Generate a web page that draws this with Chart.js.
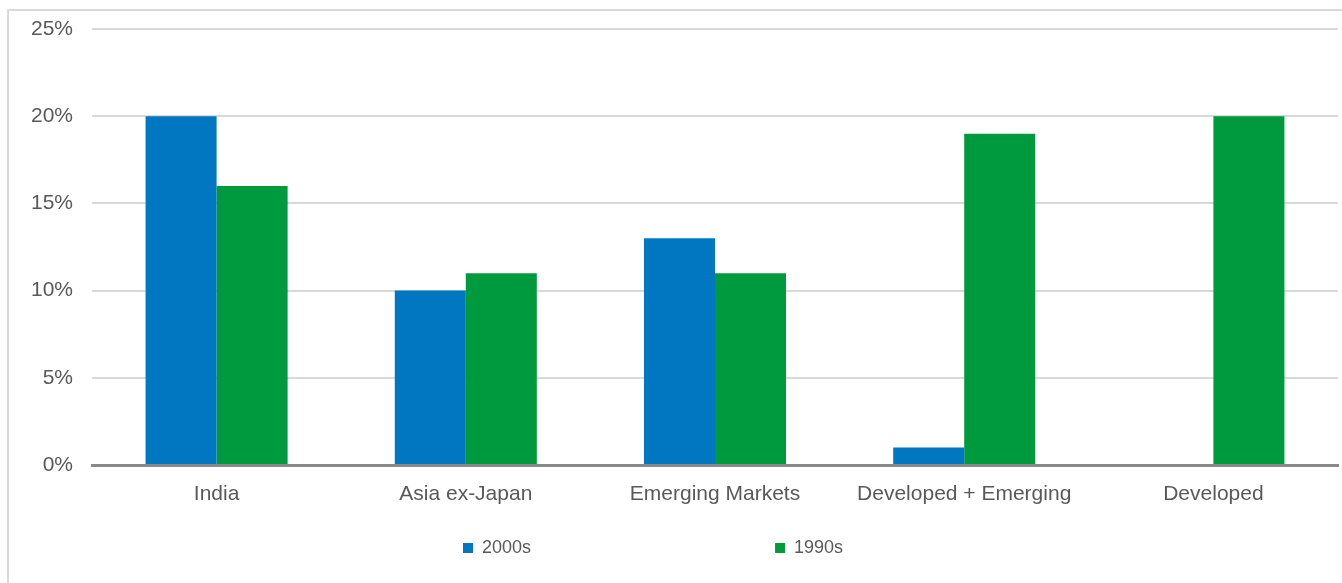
<!DOCTYPE html>
<html>
<head>
<meta charset="utf-8">
<script src="https://cdn.jsdelivr.net/npm/chart.js@4/dist/chart.umd.min.js"></script>
<style>
  html, body { margin: 0; padding: 0; background: #ffffff; }
  #frame { position: absolute; left: 7px; top: 9px; width: 1400px; height: 600px; border: 2px solid #d9d9d9; box-sizing: border-box; }
  #c { position: absolute; left: 0; top: 0; }
</style>
</head>
<body>
<div id="frame"></div>
<canvas id="c" width="1342" height="583"></canvas>
<script>
const categories = ["India", "Asia ex-Japan", "Emerging Markets", "Developed + Emerging", "Developed"];
const series2000s = [20, 10, 13, 1, null];
const series1990s = [16, 11, 11, 19, 20];
const seriesNames = ["2000s", "1990s"];
const yTicks = [0, 5, 10, 15, 20, 25];

const FONT = '"Liberation Sans", Arial, Helvetica, sans-serif';
const TEXT = '#595959';

// Legend placement tuning (mimics the wide spacing of the original legend)
const LEGEND_PAD = 244;
const legendPlacer = {
  id: 'legendPlacer',
  afterLayout(chart) {
    const lg = chart.legend;
    if (!lg) return;
    lg.left = 463 - LEGEND_PAD;
    lg.top = 539 - LEGEND_PAD;
  }
};

new Chart(document.getElementById('c'), {
  type: 'bar',
  data: {
    labels: categories,
    datasets: [
      { label: seriesNames[0], data: series2000s, backgroundColor: '#0077c0', borderWidth: 0 },
      { label: seriesNames[1], data: series1990s, backgroundColor: '#009a3e', borderWidth: 0 }
    ]
  },
  options: {
    responsive: false,
    animation: false,
    devicePixelRatio: 1,
    categoryPercentage: 0.57,
    barPercentage: 1.0,
    layout: { padding: { left: 0, right: 4, top: 29, bottom: 0 } },
    plugins: {
      tooltip: { enabled: false },
      legend: {
        position: 'bottom',
        align: 'start',
        maxHeight: 50,
        labels: {
          boxWidth: 10,
          boxHeight: 10,
          padding: LEGEND_PAD,
          color: TEXT,
          font: { family: FONT, size: 18 }
        }
      }
    },
    scales: {
      x: {
        offset: true,
        grid: { display: false, drawTicks: false },
        border: { display: true, color: '#898989', width: 3 },
        ticks: { color: TEXT, font: { family: FONT, size: 21 }, padding: 17, maxRotation: 0, autoSkip: false },
        afterFit(scale) { scale.height = 68; }
      },
      y: {
        min: 0,
        max: 25,
        afterBuildTicks(scale) { scale.ticks = yTicks.map(v => ({ value: v })); },
        grid: { color: '#d9d9d9', lineWidth: 2, drawTicks: false },
        border: { display: false },
        ticks: {
          color: TEXT,
          font: { family: FONT, size: 21 },
          padding: 19,
          callback: (v) => v + '%'
        },
        afterFit(scale) {
          scale.width = 92;
          scale.paddingTop = 12;
          scale.paddingBottom = 12;
        }
      }
    }
  },
  plugins: [legendPlacer]
});
</script>
</body>
</html>
